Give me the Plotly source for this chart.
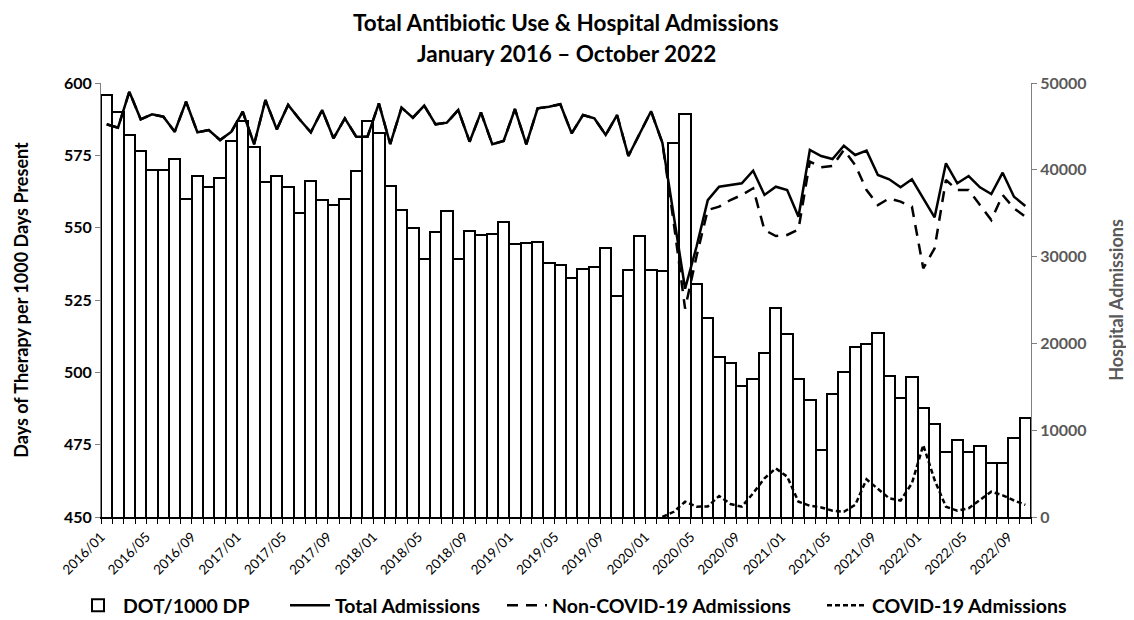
import plotly.graph_objects as go

months = [f"{y}/{m:02d}" for y in range(2016, 2023) for m in range(1, 13)][:82]

dot = [596, 590, 582, 576.6, 570, 570, 573.8, 560, 568, 564, 567, 580,
       587, 578, 565.7, 568, 564, 555, 566, 559.5, 558, 560, 569.7, 587,
       582.6, 564.4, 556, 550, 539, 548.5, 555.9, 539, 549, 547.6, 547.8, 552,
       544.2, 544.8, 545, 537.9, 537, 532.5, 535.8, 536.5, 543, 526.5, 535.5, 547,
       535.2, 535, 579.4, 589.2, 530.4, 518.9, 505.2, 503.4, 495.3, 497.7, 506.7, 522.2,
       513.1, 497.8, 490.4, 473.1, 492.4, 500, 508.6, 509.8, 513.5, 498.8, 491.3, 498.5,
       487.8, 482.1, 472.6, 476.6, 472.6, 474.5, 468.8, 468.6, 477.2, 484.1]

total_adm = [45240, 44850, 49000, 45820, 46390, 46120, 44390, 47850, 44320, 44580, 43430, 44390,
             46690, 42940, 48040, 44660, 47470, 45820, 44320, 46890, 43630, 45930, 43810, 43810,
             47660, 42970, 47160, 46000, 47390, 45240, 45430, 46890, 43240, 46620, 42940, 43320,
             47000, 42940, 47080, 47270, 47550, 44200, 46310, 45930, 44010, 46310, 41590, 44200,
             46750, 43100, 34500, 26300, 31100, 36500, 38050, 38210, 38440, 39900, 37100, 38050,
             37670, 34600, 42280, 41590, 41240, 42780, 41710, 42200, 39400, 38900, 37980, 38900,
             36710, 34530, 40750, 38440, 39280, 37980, 37210, 39670, 36900, 35830]

non_covid_adm = total_adm[:50] + [
    33900, 24000, 29990, 35370, 35750, 36520, 37100, 37870, 33060, 32370,
    32490, 33140, 40940, 40290, 40440, 42280, 40550, 37670, 35940, 36710, 36330, 35750,
    28650, 30950, 38820, 37670, 37670, 35940, 34210, 37100, 35560, 34600]

covid_adm = [None] * 49 + [
    0, 600, 1760, 1190, 1210, 2420, 1500, 1190, 2730, 4460, 5610,
    4650, 1760, 1300, 1100, 730, 600, 1400, 4340, 3300, 2150, 1900, 3880,
    8290, 4260, 1190, 730, 1000, 1950, 2920, 2500, 1900, 1400]

title_lines = ["Total Antibiotic Use & Hospital Admissions", "January 2016 – October 2022"]
series_names = ["DOT/1000 DP", "Total Admissions", "Non-COVID-19 Admissions", "COVID-19 Admissions"]

x = list(range(len(months)))
tickvals = [i - 0.5 for i in range(len(months) + 1)]
ticktext = [months[i] if (i < len(months) and i % 4 == 0) else "" for i in range(len(months) + 1)]

FONT = "Lato"
fig = go.Figure()
fig.add_trace(go.Bar(x=x, y=dot, name=f"<b>{series_names[0]}</b>", width=1,
                     marker=dict(color="white", line=dict(color="black", width=2)),
                     yaxis="y", legend="legend"))
fig.add_trace(go.Scatter(x=x, y=total_adm, name=f"<b>{series_names[1]}</b>", mode="lines",
                         line=dict(color="black", width=2.5), yaxis="y2", legend="legend2"))
fig.add_trace(go.Scatter(x=x, y=non_covid_adm, name=f"<b>{series_names[2]}</b>", mode="lines",
                         line=dict(color="black", width=2.5, dash="11px,8px"), yaxis="y2",
                         legend="legend3"))
fig.add_trace(go.Scatter(x=x, y=covid_adm, name=f"<b>{series_names[3]}</b>", mode="lines",
                         line=dict(color="black", width=2.5, dash="5px,3px"), yaxis="y2",
                         legend="legend4"))

# page body has an 8px margin: figure sized/positioned to compensate
OFF = 8
H = 434.0
W = 930.0
annotations = [
    dict(text=f"<b>{title_lines[0]}</b>", xref="paper", yref="paper", x=0.5, y=1 + (83 - 23) / H,
         xanchor="center", yanchor="middle", showarrow=False,
         font=dict(family=FONT, size=22.5, color="black")),
    dict(text=f"<b>{title_lines[1]}</b>", xref="paper", yref="paper", x=0.5, y=1 + (83 - 54) / H,
         xanchor="center", yanchor="middle", showarrow=False,
         font=dict(family=FONT, size=22.5, color="black")),
]


def leg(px):
    return dict(orientation="h", x=(px - 101) / W, xanchor="left",
                y=-(586 - 517) / H, yanchor="top",
                font=dict(family=FONT, size=19.5, color="black"), itemwidth=40)


fig.update_layout(
    width=1134 - OFF, height=620 - OFF,
    paper_bgcolor="white", plot_bgcolor="white",
    margin=dict(l=101 - OFF, r=103, t=83 - OFF, b=103, autoexpand=False),
    annotations=annotations,
    font=dict(family=FONT, color="black"),
    bargap=0,
    showlegend=True,
    legend=leg(73), legend2=leg(285), legend3=leg(502), legend4=leg(822),
    xaxis=dict(range=[-0.5, len(months) - 0.5], tickmode="array", tickvals=tickvals,
               ticktext=ticktext, tickangle=-45, ticks="outside", ticklen=5,
               tickcolor="black", showline=True, linecolor="black", linewidth=1.5,
               showgrid=False, zeroline=False,
               tickfont=dict(family=FONT, size=13.5, color="black")),
    yaxis=dict(range=[450, 600], dtick=25, ticks="outside", ticklen=5, tickcolor="#808080",
               showline=True, linecolor="#808080", linewidth=1, showgrid=False, zeroline=False,
               tickfont=dict(family=FONT, size=16, color="black"),
               title=dict(text="<b>Days of Therapy per 1000 Days Present</b>",
                          font=dict(family=FONT, size=18, color="black"), standoff=30)),
    yaxis2=dict(range=[0, 50000], dtick=10000, tickformat="d", overlaying="y", side="right",
                ticks="outside", ticklen=5, tickcolor="#808080",
                showline=True, linecolor="#808080", linewidth=1, showgrid=False, zeroline=False,
                tickfont=dict(family=FONT, size=16, color="#595959"),
                title=dict(text="<b>Hospital Admissions</b>",
                           font=dict(family=FONT, size=18, color="#595959"), standoff=24)),
)
fig.update_yaxes(tickprefix="<b>", ticksuffix="</b>")
fig.update_xaxes(tickprefix="<b>", ticksuffix="</b>")

fig.write_html("out.html")
